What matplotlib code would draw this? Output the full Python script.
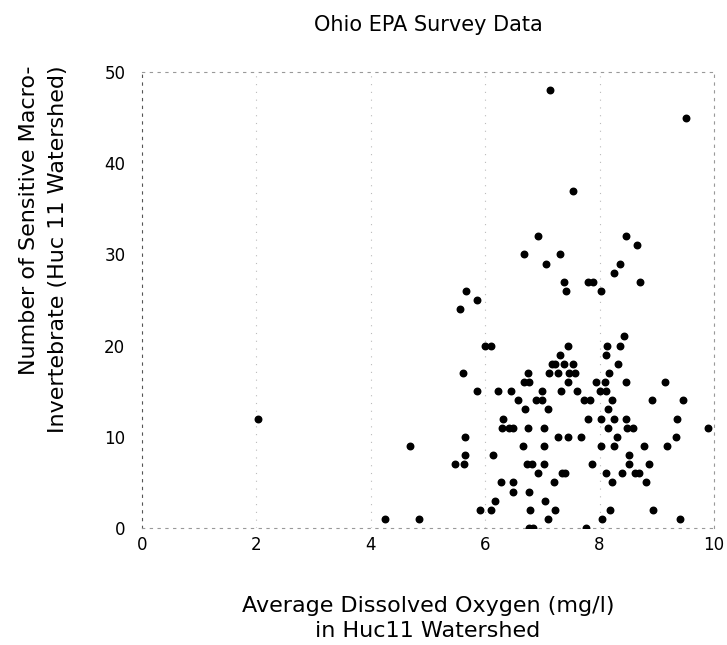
import matplotlib
matplotlib.use("Agg")
import matplotlib.pyplot as plt

# Data (x = dissolved oxygen, y = count)
do_mgl = [2.02, 4.25, 4.69, 4.85, 5.47, 5.63, 5.65, 5.65, 5.62, 5.56,
          5.66, 5.85, 5.86, 5.91, 6.10, 6.00, 6.10, 6.13, 6.17, 6.23,
          6.28, 6.31, 6.29, 6.41, 6.49, 6.45, 6.49, 6.49, 6.58, 6.66,
          6.67, 6.77, 6.74, 6.70, 6.74, 6.73, 6.81, 6.77, 6.78, 6.77,
          6.83, 6.67, 6.88, 6.99, 6.99, 6.93, 6.92, 7.07, 7.03, 7.03,
          7.03, 7.05, 7.09, 7.10, 7.12, 7.16, 7.22, 7.13, 7.22, 7.21,
          7.27, 7.28, 7.31, 7.32, 7.30, 7.34, 7.40, 7.37, 7.37, 7.41,
          7.44, 7.45, 7.45, 7.47, 7.53, 7.54, 7.57, 7.60, 7.67, 7.72,
          7.76, 7.79, 7.80, 7.83, 7.86, 7.88, 7.94, 8.01, 8.02, 8.02,
          8.02, 8.05, 8.09, 8.11, 8.11, 8.12, 8.13, 8.15, 8.15, 8.16,
          8.18, 8.21, 8.21, 8.25, 8.25, 8.26, 8.30, 8.32, 8.36, 8.36,
          8.40, 8.43, 8.46, 8.46, 8.47, 8.48, 8.52, 8.52, 8.59, 8.62,
          8.69, 8.66, 8.71, 8.78, 8.81, 8.87, 8.92, 8.94, 9.14, 9.18,
          9.34, 9.35, 9.41, 9.45, 9.51, 9.90]
n_species = [12, 1, 9, 1, 7, 7, 8, 10, 17, 24,
             26, 25, 15, 2, 2, 20, 20, 8, 3, 15,
             5, 12, 11, 11, 11, 15, 5, 4, 14, 9,
             16, 16, 17, 13, 11, 7, 7, 4, 2, 0,
             0, 30, 14, 14, 15, 6, 32, 29, 11, 9,
             7, 3, 13, 1, 17, 18, 18, 48, 2, 5,
             10, 17, 19, 15, 30, 6, 6, 18, 27, 26,
             20, 16, 10, 17, 37, 18, 17, 15, 10, 14,
             0, 12, 27, 14, 7, 27, 16, 15, 12, 9,
             26, 1, 16, 15, 19, 6, 20, 13, 11, 17,
             2, 5, 14, 12, 9, 28, 10, 18, 20, 29,
             6, 21, 12, 32, 16, 11, 8, 7, 11, 6,
             6, 31, 27, 9, 5, 7, 14, 2, 16, 9,
             10, 12, 1, 14, 45, 11]

x_ticks = [0, 2, 4, 6, 8, 10]
y_ticks = [0, 10, 20, 30, 40, 50]

plt.rcParams['font.family'] = ['DejaVu Sans']

fig = plt.figure(figsize=(7.27, 6.45), dpi=100)
ax = fig.add_axes([0.1953, 0.1814, 0.7868, 0.7070])

ax.scatter(do_mgl, n_species, s=22, color='black', zorder=3)

ax.set_xlim(0, 10)
ax.set_ylim(0, 50)
ax.set_xticks(x_ticks)
ax.set_yticks(y_ticks)
ax.tick_params(axis='x', length=0, labelsize=12, pad=6)
ax.tick_params(axis='y', length=0, labelsize=12, pad=12)

# faint dotted grid / frame like the scanned original
ax.grid(axis='x', color='#bbbbbb', linestyle=(0, (1, 6)), linewidth=0.8)
for side in ['top', 'bottom', 'right', 'left']:
    ax.spines[side].set_linestyle((0, (2, 5)))
    ax.spines[side].set_color('#999999')
    ax.spines[side].set_linewidth(0.8)
ax.spines['left'].set_color('#555555')

fig.text(0.5887, 0.962, 'Ohio EPA Survey Data', ha='center', va='center', fontsize=15)
fig.text(0.5887, 0.041, 'Average Dissolved Oxygen (mg/l)\nin Huc11 Watershed',
         ha='center', va='center', fontsize=16, linespacing=1.35)
fig.text(0.040, 0.898, 'Number of Sensitive Macro-', rotation=90,
         ha='center', va='top', fontsize=16)
fig.text(0.080, 0.898, 'Invertebrate (Huc 11 Watershed)', rotation=90,
         ha='center', va='top', fontsize=16)

fig.savefig('out.png', dpi=100)
